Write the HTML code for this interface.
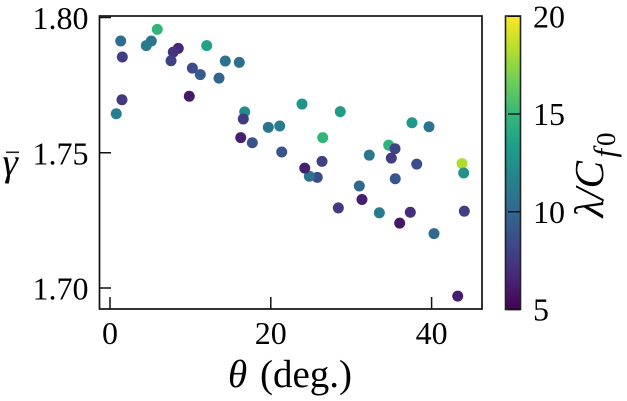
<!DOCTYPE html>
<html>
<head>
<meta charset="utf-8">
<style>
html,body{margin:0;padding:0;background:#fff;width:627px;height:401px;overflow:hidden}
svg{display:block;filter:blur(0.35px)}
text{font-family:"Liberation Serif",serif;fill:#000}
</style>
</head>
<body>
<svg id="chart" xmlns="http://www.w3.org/2000/svg" width="627" height="401" viewBox="0 0 627 401">
<defs><linearGradient id="cbar-gradient" x1="0" y1="1" x2="0" y2="0"></linearGradient></defs>
<rect width="627" height="401" fill="#fff"/>
<g id="points"></g>
<rect x="99.5" y="16" width="382.5" height="293" fill="none" stroke="#111" stroke-width="1.7"/>
<g id="xticks"></g>
<g id="yticks"></g>
<text x="228" y="387" font-size="39"><tspan font-style="italic">θ</tspan><tspan x="260">(deg.)</tspan></text>
<text x="2.5" y="175" font-size="39" font-style="italic">γ</text>
<rect x="6" y="151.5" width="13" height="1.6" fill="#222"/>
<rect x="505.5" y="16" width="15" height="293.5" fill="url(#cbar-gradient)" stroke="#222" stroke-width="1.6"/>
<g id="cticks"></g>
<g transform="translate(603,217.5) rotate(-90)">
<text x="0" y="0" font-size="41" font-style="italic">λ/C</text>
<text x="60" y="12" font-size="31" font-style="italic">f</text>
<text x="71.5" y="12" font-size="27">0</text>
</g>
</svg>
<script>
const theta = [1.33,1.53,1.49,0.78,5.14,4.51,5.88,8.49,7.87,7.59,10.24,11.23,9.86,12.03,14.34,13.56,16.08,16.75,16.58,16.26,17.70,19.69,21.11,21.36,23.88,28.64,26.46,26.37,25.78,24.79,24.22,32.25,34.66,35.45,34.99,37.56,39.68,38.15,35.48,31.01,31.34,43.78,43.99,28.40,33.50,37.35,36.03,40.30,44.07,43.25];
const gammaBar = [1.7913,1.7854,1.7696,1.7644,1.7913,1.7896,1.7956,1.7886,1.7872,1.7840,1.7813,1.7789,1.7709,1.7896,1.7839,1.7776,1.7834,1.7651,1.7625,1.7556,1.7537,1.7594,1.7599,1.7503,1.7680,1.7652,1.7556,1.7468,1.7409,1.7413,1.7443,1.7491,1.7528,1.7515,1.7480,1.7611,1.7596,1.7458,1.7404,1.7377,1.7327,1.7460,1.7425,1.7296,1.7278,1.7280,1.7240,1.7201,1.7284,1.6970];
const lambdaCf = [10.3,7.8,7.5,11.5,10.8,11.3,14.8,6.6,7.2,8.0,8.5,9.3,6.0,13.5,10.6,9.8,10.4,12.3,7.6,6.3,8.8,10.9,11.4,9.0,12.8,13.2,14.8,7.9,8.6,10.7,6.3,11.0,14.7,8.0,7.7,13.0,10.7,8.6,9.0,10.0,6.3,18.2,12.6,7.6,11.2,6.9,5.9,10.2,7.8,6.2];
const xTickValues = [0,20,40];
const xTickLabels = ["0","20","40"];
const yTickValues = [1.70,1.75,1.80];
const yTickLabels = ["1.70","1.75","1.80"];
const cTickValues = [5,10,15,20];
const cTickLabels = ["5","10","15","20"];
const viridisStops = ["#440154","#482878","#3e4989","#31688e","#26828e","#1f9e89","#35b779","#6ece58","#b5de2b","#fde725"];

const NS = "http://www.w3.org/2000/svg";
const xScale = v => 110 + v * 8.04;
const yScale = v => 17.5 + (1.80 - v) * 2705;
const cScale = v => 309.5 - (v - 5) * 19.55;

function hexToRgb(h){return [1,3,5].map(i => parseInt(h.substr(i,2),16));}
function viridis(v){
  const t = Math.max(0, Math.min(1, (v - 5) / 15)) * (viridisStops.length - 1);
  const i = Math.min(Math.floor(t), viridisStops.length - 2);
  const a = hexToRgb(viridisStops[i]);
  const b = hexToRgb(viridisStops[i + 1]);
  const f = t - i;
  return "rgb(" + a.map((c, k) => Math.round(c + (b[k] - c) * f)).join(",") + ")";
}
function make(tag, parent, attrs, text){
  const el = document.createElementNS(NS, tag);
  for (const k in attrs) el.setAttribute(k, attrs[k]);
  if (text !== undefined) el.textContent = text;
  parent.appendChild(el);
  return el;
}

const grad = document.getElementById("cbar-gradient");
viridisStops.forEach((c, i) => {
  make("stop", grad, {offset: i / (viridisStops.length - 1), "stop-color": c});
});

const pts = document.getElementById("points");
theta.forEach((t, i) => {
  const el = make("circle", pts, {cx: xScale(t), cy: yScale(gammaBar[i]), r: 5.5, fill: viridis(lambdaCf[i])});
  
  
});

const xt = document.getElementById("xticks");
xTickValues.forEach((v, i) => {
  const x = xScale(v);
  const tick = make("line", xt, {x1: x, x2: x, y1: 309, y2: 297, stroke: "#111", "stroke-width": 1.5});
  
  
  const lab = make("text", xt, {x: x, y: 344, "font-size": 32, "text-anchor": "middle"}, xTickLabels[i]);
  
  
});

const yt = document.getElementById("yticks");
yTickValues.forEach((v, i) => {
  const y = yScale(v);
  const tick = make("line", yt, {x1: 99.5, x2: 111, y1: y, y2: y, stroke: "#111", "stroke-width": 1.5});
  
  
  const lab = make("text", yt, {x: 88.5, y: y + 11.5, "font-size": 32, "text-anchor": "end"}, yTickLabels[i]);
  
  
});

const ct = document.getElementById("cticks");
cTickValues.forEach((v, i) => {
  const y = cScale(v);
  const tick = make("line", ct, {x1: 508, x2: 520.5, y1: y, y2: y, stroke: "#111", "stroke-width": 1.4});
  
  
  const lab = make("text", ct, {x: 533, y: y + 11, "font-size": 32}, cTickLabels[i]);
  
  
});
</script>
</body>
</html>
